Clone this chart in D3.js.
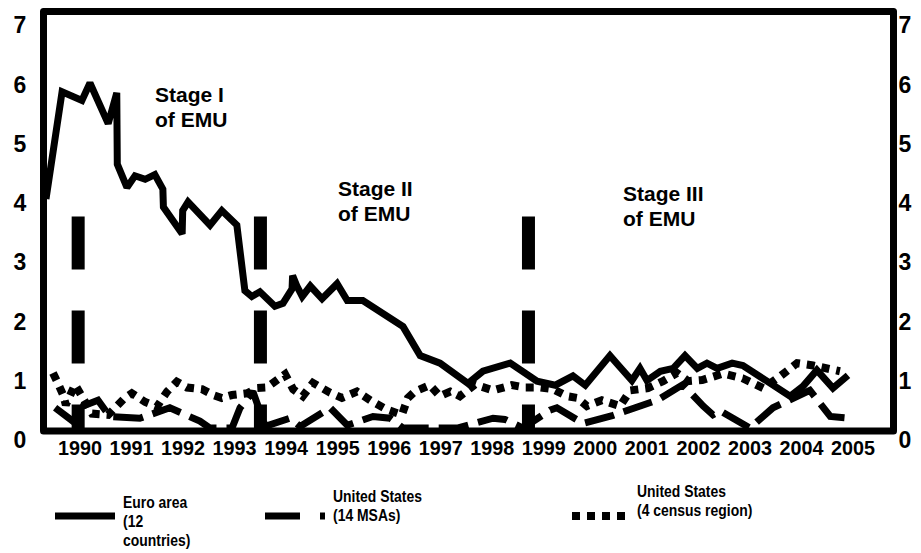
<!DOCTYPE html>
<html>
<head>
<meta charset="utf-8">
<script src="https://cdn.jsdelivr.net/npm/d3@7"></script>
<style>
  html, body { margin: 0; padding: 0; background: #fff; }
  svg { display: block; }
  text { font-family: Arial, "Liberation Sans", Helvetica, "Nimbus Sans", sans-serif; font-weight: bold; }
</style>
</head>
<body>
<svg id="chart"></svg>
<script>
// values, [year, percent]
const euroArea = [
  [1990.00, 4.0], [1990.30, 5.85], [1990.67, 5.7], [1990.82, 6.0], [1991.16, 5.3],
  [1991.32, 5.83], [1991.33, 4.6], [1991.51, 4.2], [1991.66, 4.4], [1991.85, 4.34],
  [1992.03, 4.42], [1992.18, 4.17], [1992.19, 3.86], [1992.54, 3.4], [1992.55, 3.8],
  [1992.65, 3.95], [1993.06, 3.55], [1993.28, 3.8], [1993.56, 3.55], [1993.71, 2.42],
  [1993.84, 2.32], [1993.99, 2.4], [1994.27, 2.15], [1994.42, 2.2], [1994.59, 2.45],
  [1994.60, 2.68], [1994.68, 2.5], [1994.78, 2.32], [1994.93, 2.5], [1995.15, 2.28],
  [1995.43, 2.54], [1995.62, 2.25], [1995.91, 2.25], [1996.66, 1.8], [1996.98, 1.3],
  [1997.35, 1.17], [1997.87, 0.82], [1998.15, 1.03], [1998.66, 1.17], [1999.16, 0.86],
  [1999.50, 0.79], [1999.83, 0.95], [2000.06, 0.79], [2000.52, 1.3], [2000.71, 1.1],
  [2000.93, 0.87], [2001.08, 1.08], [2001.21, 0.87], [2001.46, 1.03], [2001.70, 1.08],
  [2001.92, 1.3], [2002.15, 1.08], [2002.33, 1.17], [2002.52, 1.08], [2002.80, 1.17],
  [2003.00, 1.13], [2003.88, 0.6], [2004.12, 0.77], [2004.38, 1.05], [2004.68, 0.74],
  [2004.96, 0.96]
];

const usMSA = [
  [1990.17, 0.4], [1990.50, 0.17], [1990.69, 0.43], [1990.97, 0.53], [1991.19, 0.25],
  [1991.75, 0.22], [1992.31, 0.4], [1992.87, 0.17], [1993.06, 0.05], [1993.47, 0.05],
  [1993.62, 0.4], [1993.86, 0.68], [1994.09, 0.08], [1994.55, 0.22], [1994.74, 0.08],
  [1995.30, 0.4], [1995.62, 0.1], [1996.10, 0.25], [1996.42, 0.22], [1996.66, 0.05],
  [1997.67, 0.05], [1998.34, 0.22], [1998.56, 0.2], [1998.90, 0.05], [1999.40, 0.36],
  [1999.53, 0.4], [2000.02, 0.13], [2000.58, 0.27], [2001.40, 0.53], [2001.88, 0.8],
  [2002.26, 0.43], [2002.44, 0.28], [2002.57, 0.35], [2003.13, 0.05], [2003.56, 0.4],
  [2004.25, 0.7], [2004.63, 0.25], [2005.00, 0.22]
];

const usCensus = [
  [1990.13, 1.0], [1990.22, 0.83], [1990.32, 0.62], [1990.37, 0.45], [1990.54, 0.8],
  [1990.86, 0.3], [1991.16, 0.28], [1991.47, 0.57], [1991.60, 0.65], [1991.85, 0.5],
  [1992.07, 0.42], [1992.26, 0.68], [1992.44, 0.85], [1992.63, 0.75], [1992.91, 0.72],
  [1993.12, 0.62], [1993.28, 0.57], [1993.47, 0.62], [1993.75, 0.65], [1993.94, 0.74],
  [1994.12, 0.75], [1994.46, 0.98], [1994.61, 0.72], [1994.79, 0.6], [1994.98, 0.83],
  [1995.30, 0.66], [1995.52, 0.57], [1995.80, 0.68], [1996.10, 0.5], [1996.36, 0.37],
  [1996.64, 0.28], [1996.75, 0.57], [1996.88, 0.68], [1997.16, 0.79], [1997.35, 0.6],
  [1997.54, 0.68], [1997.72, 0.6], [1998.00, 0.8], [1998.34, 0.7], [1998.69, 0.79],
  [1998.94, 0.75], [1999.22, 0.75], [1999.46, 0.72], [1999.72, 0.6], [1999.91, 0.57],
  [2000.09, 0.43], [2000.37, 0.53], [2000.71, 0.43], [2000.90, 0.7], [2001.23, 0.74],
  [2001.51, 0.86], [2001.77, 1.0], [2001.98, 0.86], [2002.24, 0.88], [2002.63, 0.99],
  [2002.99, 0.91], [2003.38, 0.74], [2003.69, 0.94], [2004.01, 1.17], [2004.31, 1.13],
  [2004.81, 1.03]
];

const stageStarts = [1990.6, 1994.0, 1999.0];
const stageNames = ['Stage I', 'Stage II', 'Stage III'];
const stageTop = 3.7;

const yearLabels = d3.range(1990, 2006);
const yTicks = d3.range(0, 8);

const legendNames = [
  ['Euro area', '(12', 'countries)'],
  ['United States', '(14 MSAs)'],
  ['United States', '(4 census region)']
];

const width = 921;
const height = 553;
const svg = d3.select('#chart').attr('width', width).attr('height', height);

const x = d3.scaleLinear().domain([1990, 2005.8]).range([46, 893]);
const y = d3.scaleLinear().domain([0, 7]).range([431, 25]);
const yLabel = d3.scaleLinear().domain([0, 7]).range([440, 25]); // tick labels spread a bit wider than the data
const xLabel = d3.scalePoint().domain(yearLabels).range([80, 853]);

const line = d3.line().x(d => x(d[0])).y(d => y(d[1]));

const seriesStyles = [
  { data: euroArea, dash: null, width: 7 },
  { data: usMSA, dash: '30,10', width: 7 },
  { data: usCensus, dash: '8,7', width: 8 }
];

// stage boundaries (thick dashed bars)
svg.append('g').selectAll('line')
  .data(stageStarts)
  .enter().append('line')
  .attr('x1', d => x(d)).attr('x2', d => x(d))
  .attr('y1', y(stageTop)).attr('y2', y(0))
  .attr('stroke', '#000')
  .attr('stroke-width', 13)
  .attr('stroke-dasharray', '53,41');

svg.append('g').selectAll('path')
  .data(seriesStyles)
  .enter().append('path')
  .attr('d', d => line(d.data))
  .attr('fill', 'none')
  .attr('stroke', '#000')
  .attr('stroke-width', d => d.width)
  .attr('stroke-linejoin', 'miter')
  .attr('stroke-miterlimit', 2)
  .attr('stroke-dasharray', d => d.dash);

// frame
svg.append('rect')
  .attr('x', x(1990) - 2.5).attr('y', 11.5)
  .attr('width', x(2005.8) - x(1990) + 3).attr('height', y(0) - 11.5)
  .attr('fill', 'none')
  .attr('stroke', '#000')
  .attr('stroke-width', 7)
  .attr('stroke-linejoin', 'round');

// y labels both sides
['left', 'right'].forEach(side => {
  svg.append('g').selectAll('text')
    .data(yTicks)
    .enter().append('text')
    .attr('x', side === 'left' ? 20 : 905)
    .attr('y', d => yLabel(d))
    .attr('dy', '0.36em')
    .attr('text-anchor', 'middle')
    .attr('font-size', 23)
    .text(d => d);
});

// x labels, squeezed like a narrow face
svg.append('g').selectAll('text')
  .data(yearLabels)
  .enter().append('text')
  .attr('x', d => xLabel(d))
  .attr('y', 455)
  .attr('text-anchor', 'middle')
  .attr('font-size', 20)
  .attr('textLength', 44)
  .attr('lengthAdjust', 'spacingAndGlyphs')
  .text(d => d);

// stage annotations
const stageAnchors = [[155, 102], [338, 196], [623, 201]];
stageNames.forEach((name, i) => {
  const t = svg.append('text')
    .attr('font-size', 21)
    .attr('x', stageAnchors[i][0])
    .attr('y', stageAnchors[i][1]);
  t.append('tspan').text(name);
  t.append('tspan').attr('x', stageAnchors[i][0]).attr('dy', 25).text('of EMU');
});

// legend
const legendItems = [
  { x: 55, y: 516, sample: 60, textX: 123, textY: 508, style: seriesStyles[0] },
  { x: 265, y: 516, sample: 60, textX: 333, textY: 502, style: seriesStyles[1] },
  { x: 572, y: 516, sample: 57, textX: 637, textY: 497, style: seriesStyles[2] }
];
legendItems.forEach((item, i) => {
  svg.append('line')
    .attr('x1', item.x).attr('x2', item.x + item.sample)
    .attr('y1', item.y).attr('y2', item.y)
    .attr('stroke', '#000')
    .attr('stroke-width', item.style.width)
    .attr('stroke-dasharray', i === 1 ? '35,20,6,20' : item.style.dash);
  const t = svg.append('g')
    .attr('transform', `translate(${item.textX},${item.textY}) scale(0.82,1)`)
    .append('text')
    .attr('font-size', 17);
  legendNames[i].forEach((s, j) => {
    t.append('tspan').attr('x', 0).attr('y', j * 19).text(s);
  });
});
</script>
</body>
</html>
